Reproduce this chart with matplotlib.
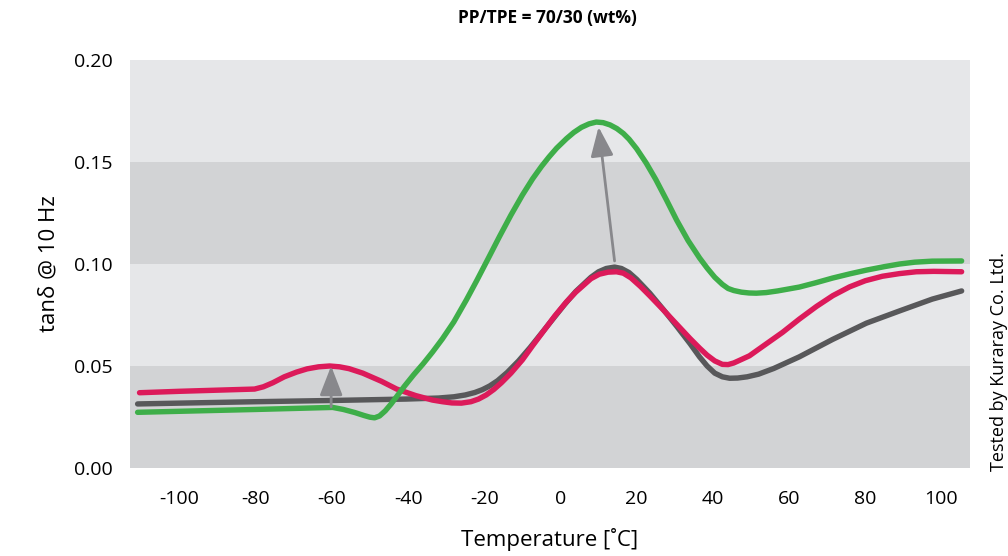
import matplotlib
matplotlib.use("Agg")
import matplotlib.pyplot as plt

# ---- data ----
gray_T = [-111, -100, -80, -60, -40.4, -32, -28, -25, -22.5, -20.5, -18.6, -16.5, -14, -11, -8,
          -5, -2, 1, 4, 6, 8, 10, 12, 14.2, 16, 18, 20, 23.4, 27, 30.5, 34, 36.5, 38.5, 40.5, 42.5,
          44.4, 46.5, 49, 52, 56, 62.7, 71.4, 80.3, 89, 97.6, 105.3]
gray_v = [0.0314, 0.0318, 0.0325, 0.0331, 0.0338, 0.0343, 0.0349, 0.0358, 0.0370, 0.0384, 0.0402,
          0.0428, 0.0468, 0.0525, 0.0590, 0.0660, 0.0730, 0.0800, 0.0865, 0.0900, 0.0935, 0.0962,
          0.0978, 0.0985, 0.0978, 0.0958, 0.0925, 0.0858, 0.0777, 0.0695, 0.0610, 0.0545, 0.0500,
          0.0465, 0.0447, 0.0440, 0.0441, 0.0447, 0.0460, 0.0488, 0.0545, 0.0630, 0.0710, 0.0770,
          0.0828, 0.0868]

pink_T = [-110.5, -100, -80.3, -78, -75.5, -72.5, -69.3, -66.5, -63.5, -60.6, -58, -55.5, -51.9,
          -47, -43, -38, -33.6, -31, -28.5, -26, -23.5, -21.5, -19.5, -17.5, -15.5, -13, -10, -7.3,
          -4.5, -1.5, 1.6, 4, 6, 8, 10.2, 12.5, 14.7, 16.5, 18.5, 21, 23.4, 27, 30.5, 34, 36.5,
          38.5, 40.5, 42.5, 44, 45.5, 47.5, 49.6, 53, 58.3, 62.7, 67.2, 71.5, 75.9, 80, 84.5, 89,
          93.4, 98, 105.3]
pink_v = [0.0369, 0.0376, 0.0387, 0.0398, 0.0418, 0.0447, 0.0470, 0.0486, 0.0496, 0.0500, 0.0496,
          0.0487, 0.0465, 0.0425, 0.0387, 0.0355, 0.0333, 0.0325, 0.0319, 0.0318, 0.0325, 0.0338,
          0.0358, 0.0385, 0.0418, 0.0465, 0.0530, 0.0600, 0.0670, 0.0745, 0.0815, 0.0862, 0.0895,
          0.0928, 0.0950, 0.0960, 0.0962, 0.0955, 0.0932, 0.0890, 0.0845, 0.0775, 0.0705, 0.0635,
          0.0588, 0.0553, 0.0525, 0.0508, 0.0507, 0.0515, 0.0532, 0.0550, 0.0595, 0.0665, 0.0730,
          0.0792, 0.0845, 0.0888, 0.0918, 0.0940, 0.0953, 0.0962, 0.0964, 0.0962]

green_T = [-111, -100, -80, -59.8, -57, -54, -51.5, -50, -48.8, -47.5, -46, -44.5, -43, -41,
           -38.5, -36, -33.6, -31, -28, -24.7, -22, -19, -16, -13, -10, -7.3, -5, -3, -1, 1.6,
           3.5, 5.5, 7.5, 9.4, 11.2, 13, 14.8, 16.5, 18, 20, 22.5, 25, 27.8, 30.5, 33.5, 36.5,
           38.5, 40.5, 42.5, 44, 45.5, 47.5, 49.5, 51.4, 54, 57, 62.7, 67, 71.4, 76, 80.3, 85, 89,
           93, 97.6, 105.3]
green_v = [0.0273, 0.0278, 0.0287, 0.0297, 0.0287, 0.0272, 0.0257, 0.0249, 0.0246, 0.0255, 0.0280,
           0.0313, 0.0350, 0.0400, 0.0458, 0.0512, 0.0568, 0.0633, 0.0716, 0.0824, 0.0918, 0.1026,
           0.1135, 0.1240, 0.1338, 0.1418, 0.1478, 0.1525, 0.1568, 0.1615, 0.1645, 0.1670, 0.1687,
           0.1696, 0.1693, 0.1682, 0.1664, 0.1640, 0.1612, 0.1565, 0.1495, 0.1415, 0.1315, 0.1215,
           0.1115, 0.1030, 0.0980, 0.0935, 0.0900, 0.0880, 0.0870, 0.0862, 0.0858, 0.0857, 0.0860,
           0.0868, 0.0887, 0.0908, 0.0931, 0.0952, 0.0970, 0.0987, 0.1000, 0.1009, 0.1014, 0.1015]

x_ticks = [-100, -80, -60, -40, -20, 0, 20, 40, 60, 80, 100]
y_ticks = [0.00, 0.05, 0.10, 0.15, 0.20]

arrow1 = ((-60.2, 0.0300), (-60.2, 0.0500))
arrow2 = ((14.2, 0.1015), (10.0, 0.1672))

# ---- style ----
plt.rcParams['font.family'] = ['Open Sans', 'DejaVu Sans']
fig = plt.figure(figsize=(10.08, 5.56), dpi=100)
ax = fig.add_axes([130/1008, 1 - 468/556, 840/1008, 409/556])

light = '#e6e7e9'
dark = '#d2d3d5'
for i, lo in enumerate(y_ticks[:-1]):
    ax.axhspan(lo, y_ticks[i + 1], color=dark if i % 2 == 0 else light, lw=0, zorder=0)

lw = 3.9
common = dict(lw=lw, solid_capstyle='round', solid_joinstyle='round')
ax.plot(gray_T, gray_v, color='#58585a', zorder=3, **common)
ax.plot(pink_T, pink_v, color='#dc1a5a', zorder=4, **common)
ax.plot(green_T, green_v, color='#3eae49', zorder=5, **common)

for (s, e) in (arrow1, arrow2):
    ax.annotate('', xy=e, xytext=s,
                arrowprops=dict(arrowstyle='-|>,head_length=0.9,head_width=0.35', color='#88888c',
                                lw=2.0, shrinkA=0, shrinkB=0, mutation_scale=20),
                zorder=6)

ax.set_xlim(-113, 107.5)
ax.set_ylim(0, 0.2005)
ax.set_xticks(x_ticks)
ax.set_xticklabels([str(t) for t in x_ticks])
ax.set_yticks(y_ticks)
ax.set_yticklabels([f'{t:.2f}' for t in y_ticks])
ax.tick_params(length=0, labelsize=14)
ax.tick_params(axis='x', pad=16)
ax.tick_params(axis='y', pad=12.5)
for s in ax.spines.values():
    s.set_visible(False)

ax.set_xlabel('Temperature [˚C]', fontsize=16, labelpad=14)
ax.set_ylabel('tanδ @ 10 Hz', fontsize=16, labelpad=10)
fig.text(0.543, 0.967, 'PP/TPE = 70/30 (wt%)', ha='center', va='center', fontsize=12.5, fontweight='bold')
fig.text(0.991, 1 - 252/556, 'Tested by Kuraray Co. Ltd.', rotation=90, ha='center', va='top', fontsize=13)

fig.savefig('out.png', dpi=100)
